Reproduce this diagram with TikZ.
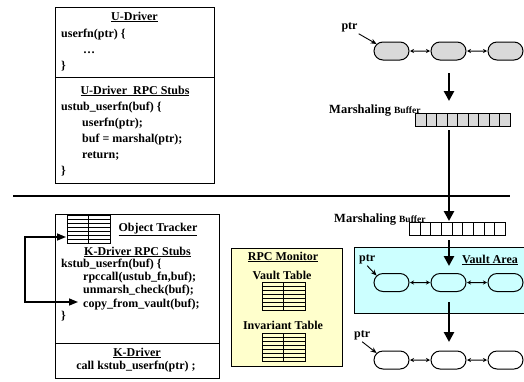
\documentclass[tikz,border=0pt]{standalone}
\usepackage{fontspec}
\setmainfont{Liberation Serif}
\usetikzlibrary{arrows.meta,shapes.misc}
\definecolor{pillgray}{HTML}{D9D9D9}
\definecolor{vaultcyan}{HTML}{CCFFFF}
\definecolor{monyellow}{HTML}{FFFFCC}
\tikzset{
  txt/.style={anchor=base west,inner sep=0pt,font=\fontsize{12}{14}\selectfont\bfseries},
  ctxt/.style={anchor=base,inner sep=0pt,font=\fontsize{12}{14}\selectfont\bfseries},
  boxnode/.style={draw,line width=1pt,anchor=north west,inner sep=0pt},
  pill/.style={rounded rectangle,draw,line width=1pt,minimum width=35pt,minimum height=18pt,inner sep=0pt},
  dbl/.style={line width=1pt,{Stealth[length=4pt,width=4pt]}-{Stealth[length=4pt,width=4pt]},shorten <=0.5pt,shorten >=0.5pt},
  ptrarrow/.style={line width=0.9pt,-{Stealth[length=6pt,width=5pt]}},
  bigarrow/.style={line width=2.8pt,-{Triangle[length=10pt,width=10pt]}},
  loop/.style={line width=1.5pt,{Triangle[length=9pt,width=7pt]}-{Triangle[length=9pt,width=7pt]}},
  cell/.style={draw,line width=0.8pt,minimum height=13pt,inner sep=0pt,anchor=north west},
  mlbl/.style={anchor=base west,inner sep=0pt,font=\fontsize{12.5}{14}\selectfont\bfseries},
  tbl/.pic={
    \draw[line width=0.8pt] (0,0) rectangle (43,28);
    \foreach \i in {1,...,6} \draw[line width=0.6pt] (0,\i*4) -- (43,\i*4);
    \draw[line width=0.8pt] (21.5,0) -- (21.5,28);
  }
}
\begin{document}
\begin{tikzpicture}[x=1pt,y=-1pt]
\useasboundingbox (0,0) rectangle (524,381);

% ---------- U-Driver box ----------
\node[boxnode,minimum width=159pt,minimum height=176pt] (ubox) at (55,7) {};
\draw[line width=1pt] (55,77) -- (214,77);
\node[ctxt] (ut1) at (134.5,20) {\underline{U-Driver}};
\node[txt] (ut2) at (61,37) {userfn(ptr) \{};
\node[txt] (ut3) at (83,53) {\ldots};
\node[txt] (ut4) at (61,69) {\}};
\node[ctxt] (ut5) at (135,94) {\underline{U-Driver\ \ RPC Stubs}};
\node[txt] (ut6) at (61,110) {ustub\_userfn(buf) \{};
\node[txt] (ut7) at (82,126) {userfn(ptr);};
\node[txt] (ut8) at (82,142) {buf = marshal(ptr);};
\node[txt] (ut9) at (82,158) {return;};
\node[txt] (ut10) at (61,174) {\}};

% ---------- top list ----------
\node[ctxt] (ptrA) at (349.5,29) {ptr};
\node[pill,fill=pillgray] (a1) at (391.5,51) {};
\node[pill,fill=pillgray] (a2) at (448.5,51) {};
\node[pill,fill=pillgray] (a3) at (505.5,51) {};
\draw[dbl] (a1) -- (a2);
\draw[dbl] (a2) -- (a3);
\draw[ptrarrow] (ptrA.south east) ++(1,2) coordinate (ptrAs) -- (a1.155);

\coordinate (arrA1) at (449,73);
\coordinate (arrA2) at (449,101);
\draw[bigarrow] (arrA1) -- (arrA2);

% ---------- marshaling buffer 1 ----------
\node[mlbl] (mb1) at (329,113) {Marshaling {\fontsize{9.5}{11}\selectfont Buffer}};
\foreach \i in {0,...,8}
  \node[cell,fill=pillgray,minimum width=10.56pt] (b1c\i) at (415+\i*10.56,113) {};

% ---------- separator ----------
\coordinate (sepL) at (13,196);
\coordinate (sepR) at (510,196);
\draw[line width=2.8pt] (sepL) -- (sepR);
\coordinate (arrB1) at (449,130);
\coordinate (arrB2) at (449,221);
\draw[bigarrow] (arrB1) -- (arrB2);

% ---------- marshaling buffer 2 ----------
\node[mlbl] (mb2) at (334,222) {Marshaling {\fontsize{9.5}{11}\selectfont Buffer}};
\foreach \i in {0,...,8}
  \node[cell,fill=white,minimum width=10.67pt] (b2c\i) at (409+\i*10.67,222) {};

% ---------- vault area ----------
\node[boxnode,fill=vaultcyan,minimum width=169.5pt,minimum height=66pt] (vault) at (354,247) {};
\node[ctxt] (vaultlbl) at (490,263) {\underline{Vault Area}};
\node[txt] (ptrB) at (359,261) {ptr};
\node[pill,fill=vaultcyan] (v1) at (391.5,282.5) {};
\node[pill,fill=vaultcyan] (v2) at (448.5,282.5) {};
\node[pill,fill=vaultcyan] (v3) at (505.5,282.5) {};
\draw[dbl] (v1) -- (v2);
\draw[dbl] (v2) -- (v3);
\draw[ptrarrow] (ptrB.south) ++(0,2) coordinate (ptrBs) -- (v1.155);

\coordinate (arrC1) at (449,240);
\coordinate (arrC2) at (449,266);
\draw[bigarrow] (arrC1) -- (arrC2);
\coordinate (arrD1) at (449,302);
\coordinate (arrD2) at (449,342);
\draw[bigarrow] (arrD1) -- (arrD2);

% ---------- bottom list ----------
\node[txt] (ptrC) at (354,337) {ptr};
\node[pill,fill=white] (w1) at (391.5,360) {};
\node[pill,fill=white] (w2) at (448.5,360) {};
\node[pill,fill=white] (w3) at (505.5,360) {};
\draw[dbl] (w1) -- (w2);
\draw[dbl] (w2) -- (w3);
\draw[ptrarrow] (ptrC.south) ++(0,2) coordinate (ptrCs) -- (w1.155);

% ---------- RPC monitor ----------
\node[boxnode,fill=monyellow,minimum width=111pt,minimum height=118pt] (mon) at (231,248) {};
\node[ctxt] (monlbl) at (283,260) {\underline{RPC Monitor}};
\node[ctxt] (vtlbl) at (282,279) {Vault Table};
\pic at (262,282) {tbl};
\node[ctxt] (itlbl) at (283,329) {Invariant Table};
\pic at (262,333) {tbl};

% ---------- K-Driver box ----------
\node[boxnode,minimum width=164pt,minimum height=164pt] (kbox) at (55,214) {};
\draw[line width=1pt] (55,343) -- (219,343);
\pic at (67,215) {tbl};
\coordinate (otIn) at (66,237);
\node[ctxt] (ot) at (158,231) {\underline{Object Tracker}};
\node[ctxt] (kt1) at (137.5,255) {\underline{K-Driver RPC Stubs}};
\node[txt] (kt2) at (61,267) {kstub\_userfn(buf) \{};
\node[txt] (kt3) at (83,280) {rpccall(ustub\_fn,buf);};
\node[txt] (kt4) at (83,293) {unmarsh\_check(buf);};
\node[txt] (kt5) at (83,307) {copy\_from\_vault(buf);};
\node[txt] (kt6) at (61,319) {\}};
\node[ctxt] (kt7) at (137,356) {\underline{K-Driver}};
\node[ctxt] (kt8) at (136,369) {call kstub\_userfn(ptr) ;};

\coordinate (umIn) at (78,302);
\draw[loop] (otIn) -- (25,237) -- (25,302) -- (umIn);
\end{tikzpicture}
\end{document}
